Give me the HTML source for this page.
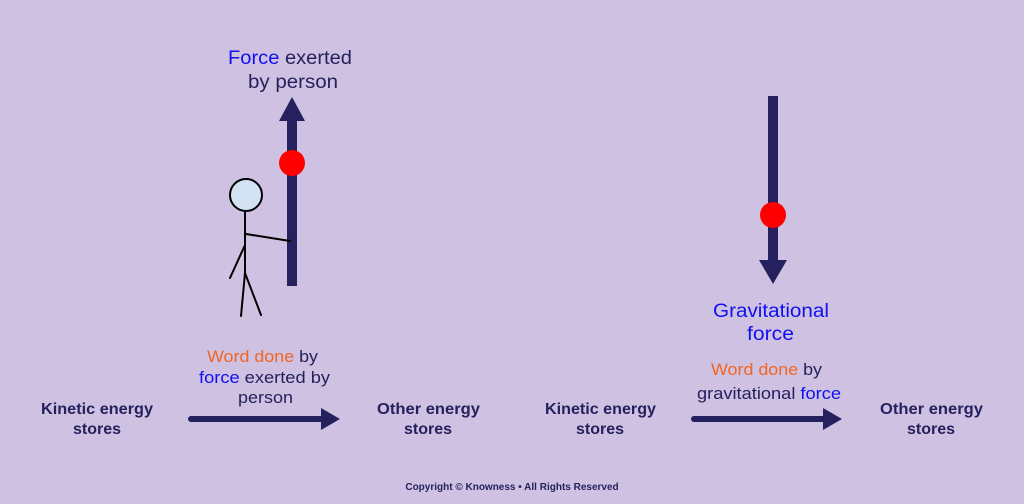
<!DOCTYPE html>
<html><head><meta charset="utf-8"><style>
html,body{margin:0;padding:0;background:#cfc1e1;}
svg{display:block}
text{font-family:"Liberation Sans",sans-serif;fill:#25215e;}
.b{font-weight:bold}
</style></head><body>
<svg width="1024" height="504" viewBox="0 0 1024 504" xmlns="http://www.w3.org/2000/svg">
<rect width="1024" height="504" fill="#cfc1e1"/>
<rect x="287" y="118" width="10" height="168" fill="#25215e"/>
<polygon points="279,121 305,121 292,97" fill="#25215e"/>
<circle cx="292" cy="163" r="13" fill="#ff0000"/>
<g stroke="#000" stroke-width="2" fill="none" stroke-linecap="round">
<circle cx="246" cy="195" r="16" fill="#d3e2f2"/>
<line x1="245" y1="211" x2="245" y2="273"/>
<line x1="246" y1="234" x2="290" y2="241"/>
<line x1="245" y1="245" x2="230" y2="278"/>
<line x1="245" y1="273" x2="241" y2="316"/>
<line x1="245" y1="273" x2="261" y2="315"/>
</g>
<text x="228" y="64" font-size="19" textLength="124" lengthAdjust="spacingAndGlyphs"><tspan fill="#1010f0">Force</tspan> exerted</text>
<text x="248" y="88" font-size="19" textLength="90" lengthAdjust="spacingAndGlyphs">by person</text>
<rect x="768" y="96" width="10" height="166" fill="#25215e"/>
<polygon points="759,260 787,260 773,284" fill="#25215e"/>
<circle cx="773" cy="215" r="13" fill="#ff0000"/>
<text x="713" y="317" font-size="19" textLength="116" lengthAdjust="spacingAndGlyphs" style="fill:#1010f0">Gravitational</text>
<text x="747" y="340" font-size="19" textLength="47" lengthAdjust="spacingAndGlyphs" style="fill:#1010f0">force</text>
<text x="41" y="414" font-size="16" class="b" textLength="112" lengthAdjust="spacingAndGlyphs">Kinetic energy</text>
<text x="97" y="434" font-size="16" text-anchor="middle" class="b">stores</text>
<text x="207" y="362" font-size="17" textLength="111" lengthAdjust="spacingAndGlyphs"><tspan style="fill:#f26522">Word done</tspan> by</text>
<text x="199" y="383" font-size="17" textLength="131" lengthAdjust="spacingAndGlyphs"><tspan style="fill:#1010f0">force</tspan> exerted by</text>
<text x="238" y="403" font-size="17" textLength="55" lengthAdjust="spacingAndGlyphs">person</text>
<line x1="191" y1="419" x2="325" y2="419" stroke="#25215e" stroke-width="6" stroke-linecap="round"/>
<polygon points="321,408 340,419 321,430" fill="#25215e"/>
<text x="377" y="414" font-size="16" class="b" textLength="103" lengthAdjust="spacingAndGlyphs">Other energy</text>
<text x="428" y="434" font-size="16" text-anchor="middle" class="b">stores</text>
<text x="545" y="414" font-size="16" class="b" textLength="111" lengthAdjust="spacingAndGlyphs">Kinetic energy</text>
<text x="600" y="434" font-size="16" text-anchor="middle" class="b">stores</text>
<text x="711" y="375" font-size="17" textLength="111" lengthAdjust="spacingAndGlyphs"><tspan style="fill:#f26522">Word done</tspan> by</text>
<text x="697" y="399" font-size="17" textLength="144" lengthAdjust="spacingAndGlyphs">gravitational <tspan style="fill:#1010f0">force</tspan></text>
<line x1="694" y1="419" x2="826" y2="419" stroke="#25215e" stroke-width="6" stroke-linecap="round"/>
<polygon points="823,408 842,419 823,430" fill="#25215e"/>
<text x="880" y="414" font-size="16" class="b" textLength="103" lengthAdjust="spacingAndGlyphs">Other energy</text>
<text x="931" y="434" font-size="16" text-anchor="middle" class="b">stores</text>
<text x="512" y="490" font-size="10" text-anchor="middle" class="b">Copyright © Knowness • All Rights Reserved</text>
</svg>
</body></html>
